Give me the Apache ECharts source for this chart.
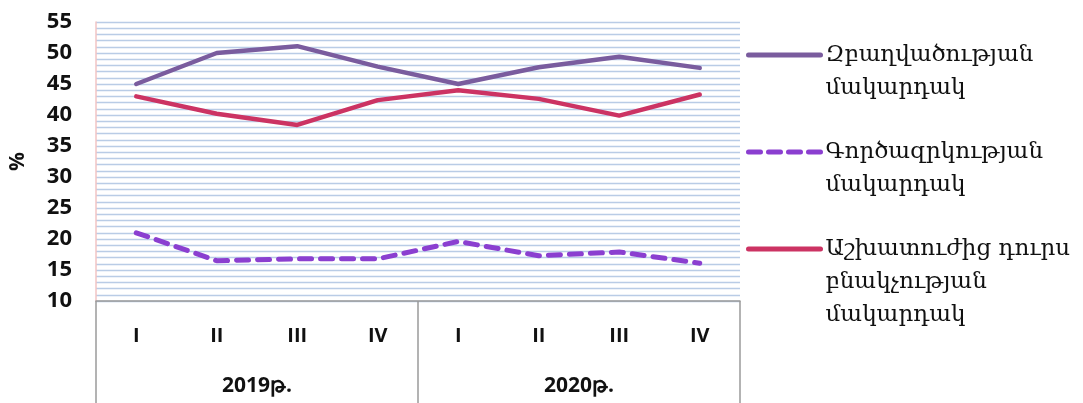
<!DOCTYPE html>
<html>
<head>
<meta charset="utf-8">
<script src="https://cdn.jsdelivr.net/npm/echarts@6/dist/echarts.min.js"></script>
<style>
html,body{margin:0;padding:0;background:#fff;}
#c{width:1083px;height:403px;}
</style>
</head>
<body>
<div id="c"></div>
<script>
const categories = ['I', 'II', 'III', 'IV', 'I', 'II', 'III', 'IV'];
const years = ['2019թ.', '2020թ.'];
const seriesNames = ['Զբաղվածության\nմակարդակ', 'Գործազրկության\nմակարդակ', 'Աշխատուժից դուրս\nբնակչության\nմակարդակ'];
const employment = [45.0, 50.0, 51.1, 47.8, 45.0, 47.7, 49.4, 47.6];
const unemployment = [21.0, 16.5, 16.8, 16.8, 19.6, 17.3, 17.9, 16.1];
const outside = [43.0, 40.2, 38.4, 42.4, 44.0, 42.6, 39.9, 43.3];

const colors = ['#7a5c9e', '#8b3fd0', '#cc3363'];
const lineH = 33;

function legendAt(name, top, blanks, dashed) {
  return {
    show: true,
    data: [name],
    orient: 'vertical',
    left: 746,
    top: top,
    padding: 0,
    itemWidth: 72,
    itemHeight: 14,
    itemGap: 0,
    itemStyle: { opacity: 0 },
    lineStyle: { width: 5, type: dashed ? [12, 8] : 'solid', cap: 'round' },
    formatter: function (n) { return '\n'.repeat(blanks) + n; },
    textStyle: { fontFamily: 'DejaVu Serif', fontSize: 23, color: '#111', lineHeight: lineH }
  };
}

const chart = echarts.init(document.getElementById('c'));
chart.setOption({
  animation: false,
  color: colors,
  grid: { left: 95, right: 343, top: 22, bottom: 102, containLabel: false, show: false, borderWidth: 0 },
  legend: [
    legendAt(seriesNames[0], 55 + 7 - 1.5 * lineH - 7, 1, false),
    legendAt(seriesNames[1], 152 + 7 - 1.5 * lineH - 7, 1, true),
    legendAt(seriesNames[2], 249 + 7 - 2.5 * lineH - 7, 2, false)
  ],
  xAxis: [
    {
      type: 'category',
      data: categories,
      position: 'bottom',
      offset: 0,
      boundaryGap: true,
      axisLine: { show: true, lineStyle: { color: '#9a9a9a', width: 1.5 } },
      axisTick: { show: false },
      axisLabel: { interval: 0, margin: 25, fontFamily: 'Open Sans', fontWeight: 'bold', fontSize: 20, color: '#111' },
      splitLine: { show: false },
      splitArea: { show: false }
    },
    {
      type: 'category',
      data: years,
      position: 'bottom',
      offset: 0,
      boundaryGap: true,
      axisLine: { show: false },
      axisTick: { show: true, interval: 0, length: 102, alignWithLabel: false, lineStyle: { color: '#9a9a9a', width: 1.5 } },
      axisLabel: { interval: 0, margin: 75, fontFamily: 'Open Sans', fontWeight: 'bold', fontSize: 21, color: '#111' },
      splitLine: { show: false },
      splitArea: { show: false }
    }
  ],
  yAxis: {
    type: 'value',
    min: 10,
    max: 55,
    interval: 1,
    name: '%',
    nameLocation: 'middle',
    nameGap: 67,
    nameRotate: 90,
    nameTextStyle: { fontFamily: 'Open Sans', fontWeight: 'bold', fontSize: 21, color: '#111' },
    axisLine: { show: true, lineStyle: { color: '#f2c4c4', width: 1.5 } },
    axisTick: { show: false },
    axisLabel: {
      margin: 24,
      fontFamily: 'Open Sans', fontWeight: 'bold', fontSize: 22, color: '#111',
      formatter: function (v) { return v % 5 === 0 ? String(v) : ''; }
    },
    splitLine: { show: true, lineStyle: { color: '#b9cce6', width: 1.3 } }
  },
  series: [
    {
      name: seriesNames[0], type: 'line', data: employment, symbol: 'none',
      lineStyle: { color: colors[0], width: 4.5, cap: 'round', join: 'round' }
    },
    {
      name: seriesNames[1], type: 'line', data: unemployment, symbol: 'none',
      lineStyle: { color: colors[1], width: 5, type: [12, 9], cap: 'round', join: 'round' }
    },
    {
      name: seriesNames[2], type: 'line', data: outside, symbol: 'none',
      lineStyle: { color: colors[2], width: 4.5, cap: 'round', join: 'round' }
    }
  ]
});
</script>
</body>
</html>
